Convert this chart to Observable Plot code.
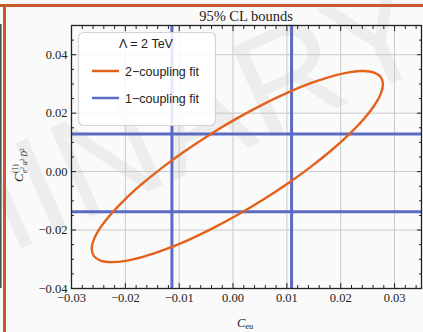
<!DOCTYPE html>
<html><head><meta charset="utf-8">
<script src="https://cdn.jsdelivr.net/npm/d3@7"></script>
<script src="https://cdn.jsdelivr.net/npm/@observablehq/plot@0.6"></script>
<style>
html,body{margin:0;padding:0;background:#fafafa;}
#fig{position:relative;width:423px;height:332px;overflow:hidden;background:#fafafa;}
#fig > svg{position:absolute;left:0;top:0;}
</style></head><body><div id="fig"></div>
<script>
// ---- data ----
const titleText = "95% CL bounds";
const watermarkText = "PRELIMINARY";
const legendTitle = "Λ = 2 TeV";
const seriesNames = ["2−coupling fit", "1−coupling fit"];
const seriesColors = ["#e4611b", "#5a6bc6"];
// 2-coupling fit 95% CL contour
const ellipseX = [0.02783,0.02743,0.02620,0.02420,0.02150,0.01817,0.01431,0.01004,0.00548,0.00080,-0.00389,-0.00844,-0.01272,-0.01657,-0.01991,-0.02261,-0.02461,-0.02583,-0.02624,-0.02583,-0.02461,-0.02261,-0.01991,-0.01657,-0.01272,-0.00844,-0.00389,0.00080,0.00548,0.01004,0.01431,0.01817,0.02150,0.02420,0.02620,0.02743];
const ellipseY = [0.02990,0.03235,0.03387,0.03441,0.03396,0.03252,0.03016,0.02693,0.02293,0.01829,0.01314,0.00765,0.00197,-0.00371,-0.00922,-0.01441,-0.01911,-0.02317,-0.02647,-0.02892,-0.03044,-0.03098,-0.03053,-0.02910,-0.02673,-0.02350,-0.01950,-0.01486,-0.00972,-0.00422,0.00145,0.00713,0.01265,0.01783,0.02253,0.02659];
// 1-coupling fit bounds
const oneCouplingX = [-0.01135, 0.01087];
const oneCouplingY = [-0.0137, 0.01291];
// axes
const xDomain = [-0.03, 0.035];
const yDomain = [-0.04, 0.05];
const xTicks = [-0.03,-0.02,-0.01,0,0.01,0.02,0.03];
const yTicks = [-0.04,-0.02,0,0.02,0.04];
const xGrid = [-0.02,-0.01,0,0.01,0.02,0.03];
const yGrid = [-0.02,0,0.02,0.04];
const xMinorTicks = [-0.028,-0.026,-0.024,-0.022,-0.018,-0.016,-0.014,-0.012,-0.008,-0.006,-0.004,-0.002,0.002,0.004,0.006,0.008,0.012,0.014,0.016,0.018,0.022,0.024,0.026,0.028,0.032,0.034];
const yMinorTicks = [-0.035,-0.03,-0.025,-0.015,-0.01,-0.005,0.005,0.01,0.015,0.025,0.03,0.035,0.045];

const ellipse = ellipseX.map((x, i) => ({x, y: ellipseY[i]}));
const fmt = d3.format(".2f");
const serif = "'Liberation Serif', 'Times New Roman', serif";
const sans = "'Liberation Sans', Arial, sans-serif";
const ink = "#222";

const fig = d3.select("#fig");

// watermark (under the plot)
const wm = fig.append("svg").attr("width", 423).attr("height", 332);
wm.append("text")
  .attr("transform", "translate(440,62) rotate(-24)")
  .attr("text-anchor", "end")
  .attr("font-family", sans)
  .attr("font-size", 143)
  .attr("fill", "#000").attr("fill-opacity", 0.05)
  .text(watermarkText);

const chart = Plot.plot({
  width: 423, height: 332,
  marginLeft: 71, marginRight: 2, marginTop: 25, marginBottom: 44,
  x: {domain: xDomain},
  y: {domain: yDomain},
  style: {background: "transparent", fontFamily: serif, fontSize: "12.5px", color: ink, overflow: "visible"},
  marks: [
    Plot.gridX(xGrid, {stroke: "#c8c8c8", strokeOpacity: 1, strokeWidth: 1}),
    Plot.gridY(yGrid, {stroke: "#c8c8c8", strokeOpacity: 1, strokeWidth: 1}),
    Plot.ruleX(oneCouplingX, {stroke: seriesColors[1], strokeWidth: 3}),
    Plot.ruleY(oneCouplingY, {stroke: seriesColors[1], strokeWidth: 3}),
    Plot.line(ellipse, {x: "x", y: "y", curve: "catmull-rom-closed", stroke: seriesColors[0], strokeWidth: 2.4}),
    Plot.frame({stroke: ink, strokeWidth: 1.3}),
    // inward ticks on all four sides
    Plot.axisX({anchor: "bottom", ticks: xTicks, tickSize: -5, tickFormat: () => "", label: null, stroke: ink}),
    Plot.axisX({anchor: "bottom", ticks: xMinorTicks, tickSize: -3, tickFormat: () => "", label: null, stroke: ink}),
    Plot.axisX({anchor: "top", ticks: xTicks, tickSize: -5, tickFormat: () => "", label: null, stroke: ink}),
    Plot.axisX({anchor: "top", ticks: xMinorTicks, tickSize: -3, tickFormat: () => "", label: null, stroke: ink}),
    Plot.axisY({anchor: "left", ticks: yTicks, tickSize: -5, tickFormat: () => "", label: null, stroke: ink}),
    Plot.axisY({anchor: "left", ticks: yMinorTicks, tickSize: -3, tickFormat: () => "", label: null, stroke: ink}),
    Plot.axisY({anchor: "right", ticks: yTicks, tickSize: -5, tickFormat: () => "", label: null, stroke: ink}),
    Plot.axisY({anchor: "right", ticks: yMinorTicks, tickSize: -3, tickFormat: () => "", label: null, stroke: ink}),
    // tick labels
    Plot.axisX({anchor: "bottom", ticks: xTicks, tickSize: 0, tickPadding: 5, tickFormat: fmt, label: null, fill: ink}),
    Plot.axisY({anchor: "left", ticks: yTicks, tickSize: 0, tickPadding: 4, tickFormat: fmt, label: null, fill: ink})
  ]
});
fig.node().appendChild(chart);

// overlay: title, labels, legend, page border
const ov = fig.append("svg").attr("width", 423).attr("height", 332).style("pointer-events", "none");

// page borders
ov.append("rect").attr("x", 0).attr("y", 24).attr("width", 1.6).attr("height", 264).attr("fill", "#555");
ov.append("rect").attr("x", 0).attr("y", 4).attr("width", 423).attr("height", 3).attr("fill", "#c9592a");
ov.append("rect").attr("x", 3).attr("y", 4).attr("width", 3).attr("height", 328).attr("fill", "#c9592a");

// title
ov.append("text").attr("x", 246).attr("y", 21).attr("text-anchor", "middle")
  .attr("font-family", serif).attr("font-size", 14.5).attr("fill", ink).text(titleText);

// x label  C_eu
const xl = ov.append("text").attr("x", 237).attr("y", 327).attr("font-family", serif).attr("fill", ink);
xl.append("tspan").attr("font-style", "italic").attr("font-size", 12.5).text("C");
xl.append("tspan").attr("font-size", 8.5).attr("dy", 2).text("eu");

// y label  C^(1)_{e^2 u^2 D^2}
const yg = ov.append("g").attr("transform", "translate(23,160) rotate(-90)").attr("font-family", serif).attr("fill", ink);
yg.append("text").attr("x", -22).attr("y", 0).attr("font-style", "italic").attr("font-size", 12.5).text("C");
yg.append("text").attr("x", -13).attr("y", -5).attr("font-size", 7.5).text("(1)");
const sub = yg.append("text").attr("x", -13).attr("y", 3.5).attr("font-size", 7.5).attr("font-style", "italic");
[["e","2"],["u","2"],["D","2"]].forEach(([b, p], i) => {
  sub.append("tspan").attr("dy", i === 0 ? 0 : 2.5).attr("dx", i === 0 ? 0 : 2).text(b);
  sub.append("tspan").attr("dy", -2.5).attr("font-size", 5.5).attr("font-style", "normal").text(p);
});

// legend
const lg = ov.append("g");
lg.append("rect").attr("x", 78.5).attr("y", 32.5).attr("width", 137).attr("height", 93).attr("rx", 5)
  .attr("fill", "#fff").attr("fill-opacity", 0.85).attr("stroke", "#d4d4d4").attr("stroke-width", 1.2);
lg.append("text").attr("x", 146).attr("y", 47.5).attr("text-anchor", "middle")
  .attr("font-family", sans).attr("font-size", 12.5).attr("fill", ink).text(legendTitle);
seriesNames.forEach((name, i) => {
  const y = 71 + i * 27;
  lg.append("line").attr("x1", 92).attr("x2", 119).attr("y1", y).attr("y2", y)
    .attr("stroke", seriesColors[i]).attr("stroke-width", 2.5);
  lg.append("text").attr("x", 125).attr("y", y + 4.5).attr("font-family", sans).attr("font-size", 12.5)
    .attr("fill", ink).text(name);
});
</script></body></html>
